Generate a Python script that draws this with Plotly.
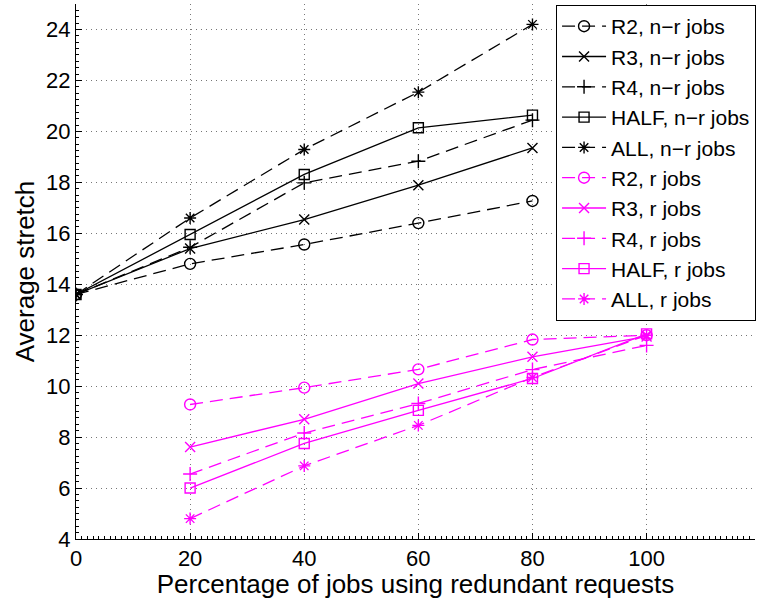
import plotly.graph_objects as go

x_nr = [0, 20, 40, 60, 80]
x_r = [20, 40, 60, 80, 100]

r2_nr = [13.6, 14.8, 15.56, 16.4, 17.27]
r3_nr = [13.6, 15.4, 16.54, 17.89, 19.35]
r4_nr = [13.6, 15.45, 17.98, 18.83, 20.44]
half_nr = [13.6, 15.95, 18.31, 20.14, 20.64]
all_nr = [13.6, 16.6, 19.29, 21.54, 24.2]

r2_r = [9.28, 9.94, 10.66, 11.83, 12.0]
r3_r = [7.61, 8.7, 10.1, 11.15, 11.95]
r4_r = [6.55, 8.16, 9.32, 10.65, 11.6]
half_r = [6.0, 7.75, 9.05, 10.3, 12.05]
all_r = [4.8, 6.87, 8.46, 10.34, 12.0]

x_ticks = [0, 20, 40, 60, 80, 100]
y_ticks = [4, 6, 8, 10, 12, 14, 16, 18, 20, 22, 24]

FONT = "Liberation Sans, Arial, Helvetica, sans-serif"
BLACK = "#000000"
MAG = "#ff00ff"
DASH = "13px,7px"

series = [
    ("R2, n\u2212r jobs", x_nr, r2_nr, BLACK, DASH, "circle-open"),
    ("R3, n\u2212r jobs", x_nr, r3_nr, BLACK, "solid", "x-thin-open"),
    ("R4, n\u2212r jobs", x_nr, r4_nr, BLACK, DASH, "cross-thin-open"),
    ("HALF, n\u2212r jobs", x_nr, half_nr, BLACK, "solid", "square-open"),
    ("ALL, n\u2212r jobs", x_nr, all_nr, BLACK, DASH, "asterisk-open"),
    ("R2, r jobs", x_r, r2_r, MAG, DASH, "circle-open"),
    ("R3, r jobs", x_r, r3_r, MAG, "solid", "x-thin-open"),
    ("R4, r jobs", x_r, r4_r, MAG, DASH, "cross-thin-open"),
    ("HALF, r jobs", x_r, half_r, MAG, "solid", "square-open"),
    ("ALL, r jobs", x_r, all_r, MAG, DASH, "asterisk-open"),
]

fig = go.Figure()
for name, xs, ys, col, dash, sym in series:
    size = 11 if sym == "circle-open" else 10
    fig.add_trace(go.Scatter(
        x=xs, y=ys, name=name, mode="lines+markers",
        line=dict(color=col, width=1.3, dash=dash),
        marker=dict(symbol=sym, size=size, color=col, line=dict(color=col, width=1.4)),
    ))

axis_common = dict(
    showline=True, linecolor="black", linewidth=1,
    ticks="inside", ticklen=6, tickcolor="black", tickwidth=1,
    showgrid=True, gridcolor="#777777", griddash="1px,4px", gridwidth=1,
    zeroline=False, mirror=False,
    tickfont=dict(family=FONT, size=22, color="black"),
)

fig.update_xaxes(
    range=[0, 119], tickvals=x_ticks, ticktext=[str(v) for v in x_ticks],
    title=dict(text="Percentage of jobs using redundant requests",
               font=dict(family=FONT, size=26, color="black"), standoff=0),
    minor=dict(ticks="inside", ticklen=3, tickcolor="black", dtick=1, showgrid=False),
    **axis_common,
)
fig.update_yaxes(
    range=[4, 25], tickvals=y_ticks, ticktext=[str(v) for v in y_ticks],
    title=dict(text="Average stretch",
               font=dict(family=FONT, size=26, color="black"), standoff=4),
    minor=dict(ticks="inside", ticklen=3, tickcolor="black", dtick=0.25, showgrid=False),
    **axis_common,
)

fig.update_layout(
    width=764, height=599,
    margin=dict(l=76, r=9, t=4, b=60),
    plot_bgcolor="white", paper_bgcolor="white",
    legend=dict(
        x=0.707, y=0.998, xanchor="left", yanchor="top",
        bgcolor="white", bordercolor="black", borderwidth=1,
        font=dict(family=FONT, size=21, color="black"),
        itemwidth=44, tracegroupgap=0,
    ),
)

fig.write_html("out.html")
